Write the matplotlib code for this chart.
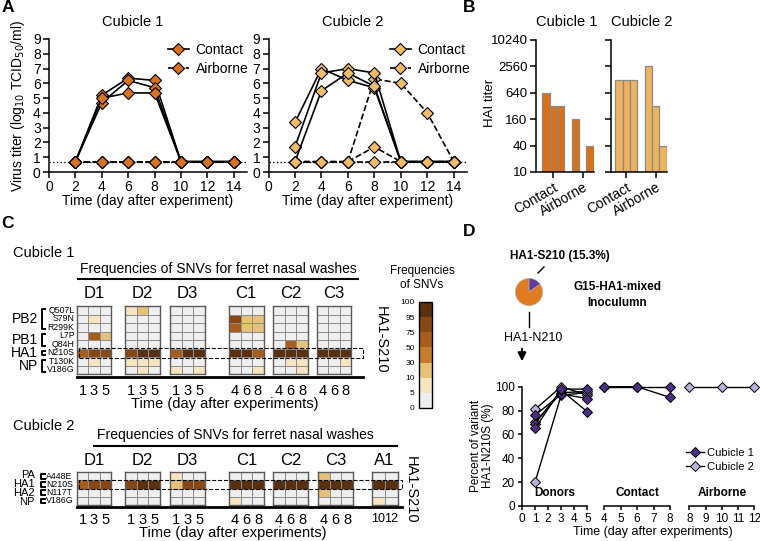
import numpy as np
import matplotlib.pyplot as plt
from matplotlib.colors import ListedColormap, BoundaryNorm
from matplotlib.cm import ScalarMappable
from matplotlib.lines import Line2D
from matplotlib.patches import Rectangle

plt.rcParams['font.family'] = ['Liberation Sans', 'DejaVu Sans']

# ---------------- data ----------------
# A: virus titers (log10 TCID50/ml)
days_a = [2, 4, 6, 8, 10, 12, 14]
c1_contact = [[0.7, 5.2, 6.35, 6.2, 0.7, 0.7, 0.7],
              [0.7, 4.7, 6.2, 5.7, 0.7, 0.7, 0.7],
              [0.7, 5.0, 5.35, 5.35, 0.7, 0.7, 0.7]]
c1_airborne = [[0.7, 0.7, 0.7, 0.7, 0.7, 0.7, 0.7],
               [0.7, 0.7, 0.7, 0.7, 0.7, 0.7, 0.7],
               [0.7, 0.7, 0.7, 0.7, 0.7, 0.7, 0.7]]
c2_contact = [[3.35, 7.0, 6.2, 5.7, 0.7, 0.7, 0.7],
              [1.7, 6.7, 7.0, 6.7, 0.7, 0.7, 0.7],
              [0.7, 5.5, 6.7, 5.8, 0.7, 0.7, 0.7]]
c2_airborne = [[0.7, 0.7, 0.7, 6.3, 6.0, 4.0, 0.7],
               [0.7, 0.7, 0.7, 1.7, 0.7, 0.7, 0.7],
               [0.7, 0.7, 0.7, 0.7, 0.7, 0.7, 0.7]]
lod = 0.7

# B: HAI titers
hai_groups = ['Contact', 'Airborne']
hai_c1 = [640, 320, 320, 160, 10, 40]
hai_c2 = [1280, 1280, 1280, 2560, 320, 40]
hai_ticks = [10, 40, 160, 640, 2560, 10240]

# C: SNV frequencies (%)
bounds = [0, 5, 10, 30, 50, 75, 95, 100]
freq_colors = ['#efefef', '#f6e5c0', '#e6c278', '#c57d30', '#a85d1d', '#874815', '#5a300f']

c1_rows = ['Q507L', 'S79N', 'R299K', 'L7P', 'Q84H', 'N210S', 'T130K', 'V186G']
c1_prot = ['PB2', 'PB1', 'HA1', 'NP']
c1_names = ['D1', 'D2', 'D3', 'C1', 'C2', 'C3']
c1_D1 = [[0, 0, 0], [0, 8, 0], [0, 0, 0], [0, 60, 25], [0, 0, 0], [65, 80, 80], [0, 8, 0], [0, 0, 0]]
c1_D2 = [[8, 25, 0], [0, 0, 0], [0, 0, 0], [0, 0, 0], [0, 0, 0], [80, 97, 97], [8, 8, 8], [0, 8, 0]]
c1_D3 = [[0, 0, 0], [0, 0, 0], [0, 0, 0], [0, 0, 0], [0, 0, 0], [70, 97, 97], [0, 0, 0], [8, 0, 8]]
c1_C1 = [[0, 0, 0], [85, 25, 25], [65, 25, 25], [0, 0, 0], [0, 0, 0], [97, 97, 70], [0, 0, 0], [0, 0, 8]]
c1_C2 = [[0, 0, 0], [0, 0, 0], [0, 0, 0], [0, 0, 0], [0, 55, 25], [97, 97, 97], [0, 8, 8], [0, 0, 8]]
c1_C3 = [[0, 0, 0], [0, 0, 0], [0, 0, 0], [0, 0, 0], [0, 0, 0], [97, 97, 97], [0, 0, 8], [0, 0, 0]]
c1_days = [[1, 3, 5], [1, 3, 5], [1, 3, 5], [4, 6, 8], [4, 6, 8], [4, 6, 8]]

c2_rows = ['A448E', 'N210S', 'N117T', 'V186G']
c2_prot = ['PA', 'HA1', 'HA2', 'NP']
c2_names = ['D1', 'D2', 'D3', 'C1', 'C2', 'C3', 'A1']
c2_D1 = [[0, 0, 0], [60, 80, 80], [0, 0, 0], [0, 0, 0]]
c2_D2 = [[0, 0, 0], [80, 97, 97], [0, 0, 0], [0, 0, 0]]
c2_D3 = [[8, 0, 0], [25, 80, 80], [0, 0, 0], [0, 0, 0]]
c2_C1 = [[0, 0, 0], [97, 97, 97], [0, 0, 0], [8, 0, 0]]
c2_C2 = [[0, 0, 0], [97, 97, 97], [0, 0, 0], [0, 0, 0]]
c2_C3 = [[25, 0, 0], [97, 97, 97], [25, 0, 0], [0, 0, 0]]
c2_A1 = [[0, 0], [97, 97], [0, 0], [8, 0]]
c2_days = [[1, 3, 5], [1, 3, 5], [1, 3, 5], [4, 6, 8], [4, 6, 8], [4, 6, 8], [10, 12]]

# D: percent of HA1-N210S
pie_vals = [15.3, 84.7]
donor_days = [1, 3, 5]
donors_c1 = [[76, 94, 90], [69, 97, 79], [65, 98, 98]]
donors_c2 = [[81, 100, 93], [20, 93, 95], [70, 95, 96]]
contact_days = [4, 6, 8]
contact_c1 = [[100, 100, 100], [100, 100, 91]]
air_days = [8, 10, 12]
air_c2 = [[100, 100, 100]]

# ---------------- figure helpers ----------------
W, H = 760, 541
fig = plt.figure(figsize=(W / 100, H / 100), dpi=100)

def pax(l, t, r, b):
    return fig.add_axes([l / W, 1 - b / H, (r - l) / W, (b - t) / H])

def ftxt(x, y, s, **kw):
    kw.setdefault('ha', 'center')
    kw.setdefault('va', 'center')
    fig.text(x / W, 1 - y / H, s, **kw)

def fline(xs, ys, **kw):
    kw.setdefault('color', 'k')
    fig.add_artist(Line2D([x / W for x in xs], [1 - y / H for y in ys],
                          transform=fig.transFigure, **kw))

def frect(l, t, r, b, **kw):
    fig.add_artist(Rectangle((l / W, 1 - b / H), (r - l) / W, (b - t) / H,
                             transform=fig.transFigure, fill=False, **kw))

def style(ax, fs):
    for s in ['top', 'right']:
        ax.spines[s].set_visible(False)
    for s in ['left', 'bottom']:
        ax.spines[s].set_linewidth(1.1)
    ax.tick_params(width=1.1, length=4, labelsize=fs, pad=2)

ftxt(8, 8, 'A', fontsize=12.5, fontweight='bold')
ftxt(469, 7, 'B', fontsize=12.5, fontweight='bold')
ftxt(8, 223, 'C', fontsize=12.5, fontweight='bold')
ftxt(469, 232, 'D', fontsize=12.5, fontweight='bold')

# ---------------- panel A ----------------
orange1 = '#d9731d'
orange2 = '#f2bd66'
for l, r, con, air, col, title, leg_x in [(49, 247, c1_contact, c1_airborne, orange1, 'Cubicle 1', 161),
                                          (268.5, 467, c2_contact, c2_airborne, orange2, 'Cubicle 2', 383)]:
    ax = pax(l, 39, r, 172)
    ax.axhline(lod, color='k', ls=':', lw=1)
    hc = ha = None
    for y in air:
        ha, = ax.plot(days_a, y, color='k', ls='--', lw=1.2, marker='D', ms=6.5,
                      mfc=col, mec='k', mew=0.8, clip_on=False, zorder=3)
    for y in con:
        hc, = ax.plot(days_a, y, color='k', ls='-', lw=1.2, marker='D', ms=6.5,
                      mfc=col, mec='k', mew=0.8, clip_on=False, zorder=4)
    ax.set_xlim(0, 15)
    ax.set_ylim(0, 9)
    ax.set_xticks(range(0, 15, 2))
    ax.set_yticks(range(0, 10))
    style(ax, 10)
    ftxt((l + r) / 2 - 15, 22, title, fontsize=10.5)
    ftxt((l + r) / 2, 201, 'Time (day after experiment)', fontsize=10)
    ax.legend([hc, ha], ['Contact', 'Airborne'], loc='upper left',
              bbox_to_anchor=(leg_x / W, 1 - 36 / H), bbox_transform=fig.transFigure,
              frameon=False, fontsize=10, handlelength=1.5, handletextpad=0.5,
              borderpad=0, labelspacing=0.35)
ftxt(18, 106, 'Virus titer (log$_{10}$ TCID$_{50}$/ml)', fontsize=10, rotation=90)

# ---------------- panel B ----------------
bar_x = [1, 2, 3, 5, 6, 7]
for l, r, xmin, vals, col, title in [(536, 593.7, -0.36, hai_c1, '#d8711c', 'Cubicle 1'),
                                     (611, 666.7, -0.08, hai_c2, '#ecb45e', 'Cubicle 2')]:
    ax = pax(l, 40, r, 172)
    ax.set_yscale('log', base=2)
    ax.bar(bar_x, [v - 10 for v in vals], bottom=10, width=1, color=col,
           edgecolor='#8a8a8a', linewidth=0.9)
    ax.set_ylim(10, 10240)
    ax.set_xlim(xmin, 7.5)
    ax.set_yticks(hai_ticks)
    ax.minorticks_off()
    style(ax, 9.5)
    ax.set_xticks([2, 6])
    ax.set_xticklabels(hai_groups, rotation=30, ha='right', rotation_mode='anchor', fontsize=10)
    if l < 600:
        ax.set_yticklabels([str(t) for t in hai_ticks])
    else:
        ax.set_yticklabels([])
    ftxt([567, 642][l > 600], 22, title, fontsize=10.5)
ftxt(490, 103, 'HAI titer', fontsize=9.5, rotation=90)

# ---------------- panel C ----------------
cmap = ListedColormap(freq_colors)
norm = BoundaryNorm(bounds, cmap.N)

def heat_block(data, left, width, top, bottom, days, name, pad, fs=10.5):
    ax = pax(left, top, left + width, bottom)
    arr = np.array(data)
    ax.pcolormesh(arr, cmap=cmap, norm=norm, edgecolors='#8e8e8e', linewidth=0.6)
    ax.set_ylim(arr.shape[0], 0)
    ax.set_xlim(0, arr.shape[1])
    ax.set_yticks([])
    ax.set_xticks(np.arange(arr.shape[1]) + 0.5)
    ax.set_xticklabels([str(d) for d in days], fontsize=fs)
    ax.tick_params(axis='x', length=0, pad=pad)
    for s in ax.spines.values():
        s.set_color('#5a5a5a')
        s.set_linewidth(1)
    ftxt(left + width / 2, top - 12, name, fontsize=12)

# cubicle 1
c1_blocks = [c1_D1, c1_D2, c1_D3, c1_C1, c1_C2, c1_C3]
c1_left = [76.7, 125.3, 170.3, 229, 273.3, 316.7]
c1_top, c1_bot = 306, 374
for data, left, days, name in zip(c1_blocks, c1_left, c1_days, c1_names):
    heat_block(data, left, 34.5, c1_top, c1_bot, days, name, 7)
rh1 = (c1_bot - c1_top) / len(c1_rows)
fline([77, 363], [376.5, 376.5], lw=2)
frect(79, c1_top + 5 * rh1 - 0.5, 363, c1_top + 6 * rh1 + 0.5, ls='--', lw=0.8, ec='k')
ftxt(13, 253, 'Cubicle 1', fontsize=10.5, ha='left')
ftxt(218, 269, 'Frequencies of SNVs for ferret nasal washes', fontsize=10)
fline([78, 358], [279, 279], lw=1.5)
ftxt(225, 404, 'Time (day after experiments)', fontsize=10.5)
ftxt(381, 340, 'HA1-S210', fontsize=10.5, rotation=-90)
for i, m in enumerate(c1_rows):
    ftxt(74.5, c1_top + (i + 0.5) * rh1, m, fontsize=6.3, ha='right')
# protein groups: (label, first row, last row)
for lab, r0, r1 in [(c1_prot[0], 0, 2), (c1_prot[1], 3, 4), (c1_prot[2], 5, 5), (c1_prot[3], 6, 7)]:
    yt = c1_top + r0 * rh1 + 2.5
    yb = c1_top + (r1 + 1) * rh1 - 2.5
    fline([45, 41.5, 41.5, 45], [yt, yt, yb, yb], lw=1.4)
    ftxt(38, (yt + yb) / 2, lab, fontsize=10, ha='right')

# cubicle 2
c2_blocks = [c2_D1, c2_D2, c2_D3, c2_C1, c2_C2, c2_C3, c2_A1]
c2_left = [76.7, 125.3, 170.3, 229.3, 273.3, 318.3, 371.5]
c2_width = [34.5, 34.5, 34.5, 34.5, 34.5, 34.5, 26]
c2_fs = [10.5, 10.5, 10.5, 10.5, 10.5, 10.5, 9]
c2_top, c2_bot = 472.3, 505
for data, left, w, days, name, fs in zip(c2_blocks, c2_left, c2_width, c2_days, c2_names, c2_fs):
    heat_block(data, left, w, c2_top, c2_bot, days, name, 5.5, fs)
rh2 = (c2_bot - c2_top) / len(c2_rows)
fline([77, 402], [507, 507], lw=2)
frect(79, c2_top + rh2 - 0.5, 402, c2_top + 2 * rh2 + 0.5, ls='--', lw=0.8, ec='k')
ftxt(13, 426, 'Cubicle 2', fontsize=10.5, ha='left')
ftxt(235, 435, 'Frequencies of SNVs for ferret nasal washes', fontsize=10)
fline([94, 397], [446, 446], lw=1.5)
ftxt(233, 533, 'Time (day after experiments)', fontsize=10.5)
ftxt(411, 490, 'HA1-S210', fontsize=10.5, rotation=-90)
for i, (p, m) in enumerate(zip(c2_prot, c2_rows)):
    yc = c2_top + (i + 0.5) * rh2
    ftxt(46, yc, m, fontsize=6.3, ha='left')
    ftxt(35, yc + (i - 1.5) * 1.0, p, fontsize=8, ha='right')
    fline([45, 40.5, 40.5, 45], [yc - 2.3, yc - 2.3, yc + 2.3, yc + 2.3], lw=1.4)

# colour bar
cax = pax(419, 302, 432, 408)
cb = fig.colorbar(ScalarMappable(norm=norm, cmap=cmap), cax=cax, spacing='uniform',
                  ticks=bounds)
cb.outline.set_linewidth(1)
cax.yaxis.set_ticks_position('left')
cax.tick_params(length=0, labelsize=6, pad=3)
ftxt(422, 278, 'Frequencies\nof SNVs', fontsize=8.5, linespacing=1.15)

# ---------------- panel D ----------------
pie_ax = pax(512, 275, 546, 309)
pie_ax.pie(pie_vals, colors=['#5b3c98', '#e07b22'], startangle=90, counterclock=False,
           wedgeprops=dict(edgecolor='#b0b0b0', linewidth=0.4))
pie_ax.set_aspect('equal')
ftxt(560, 256, 'HA1-S210 (15.3%)', fontsize=8.5, fontweight='bold')
fline([538, 544], [273, 267], lw=1)
ftxt(617, 295, 'G15-HA1-mixed\nInoculumn', fontsize=8.5, fontweight='bold', linespacing=1.5)
fline([529, 529], [312, 327], lw=1)
ftxt(533, 338, 'HA1-N210', fontsize=9)
ax_ar = fig.add_axes([0, 0, 1, 1], facecolor='none')
ax_ar.set_axis_off()
ax_ar.annotate('', xy=(522 / W, 1 - 364 / H), xytext=(522 / W, 1 - 346 / H),
               xycoords='figure fraction',
               arrowprops=dict(arrowstyle='-|>', color='k', lw=1.5, mutation_scale=12))

purple1 = '#4f2d87'
purple2 = '#bdb1da'
d_top, d_bot = 386.7, 506
axd1 = pax(522, d_top, 587.3, d_bot)
axd2 = pax(604.3, d_top, 670, d_bot)
axd3 = pax(689.3, d_top, 754.3, d_bot)
mk = dict(color='k', lw=1, marker='D', ms=5, mec='k', mew=0.7, clip_on=False)
for y in donors_c2:
    h2, = axd1.plot(donor_days, y, mfc=purple2, **mk)
for y in donors_c1:
    h1, = axd1.plot(donor_days, y, mfc=purple1, **mk)
for y in contact_c1:
    axd2.plot(contact_days, y, mfc=purple1, **mk)
for y in air_c2:
    axd3.plot(air_days, y, mfc=purple2, **mk)
for ax, lo, hi, lab in [(axd1, 0, 5, 'Donors'), (axd2, 4, 8, 'Contact'), (axd3, 8, 12, 'Airborne')]:
    ax.set_xlim(lo, hi)
    ax.set_ylim(0, 100)
    ax.set_xticks(range(lo, hi + 1))
    ax.patch.set_alpha(0)
    style(ax, 8.5)
    ax.tick_params(length=3)
    ax.text(0.5, 0.11, lab, transform=ax.transAxes, ha='center', va='center',
            fontsize=8.5, fontweight='bold')
    if ax is not axd1:
        ax.spines['left'].set_visible(False)
        ax.set_yticks([])
axd1.set_yticks(range(0, 101, 20))
ftxt(653, 532, 'Time (day after experiments)', fontsize=9)
ftxt(482, 446, 'Percent of variant\nHA1-N210S (%)', fontsize=8.5, rotation=90, linespacing=1.1)
axd3.legend([h1, h2], ['Cubicle 1', 'Cubicle 2'], loc='center left',
            bbox_to_anchor=(680 / W, 1 - 460 / H), bbox_transform=fig.transFigure,
            frameon=False, fontsize=8, handlelength=1.7, handletextpad=0.25,
            borderpad=0, labelspacing=0.35)

fig.savefig('out.png', dpi=100)
